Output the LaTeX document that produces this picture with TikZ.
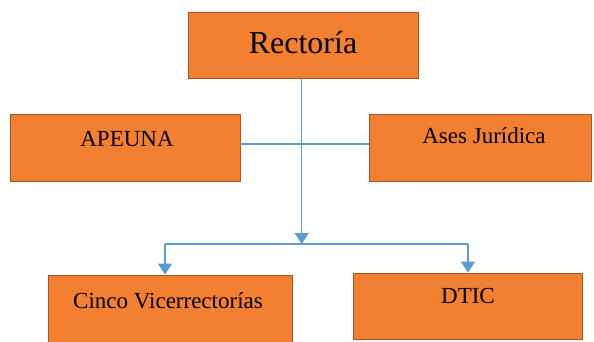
\documentclass[tikz,border=0pt]{standalone}
\usepackage{fontspec}
\setmainfont{Liberation Serif}
\usetikzlibrary{arrows.meta}
\definecolor{boxfill}{RGB}{242,128,48}
\definecolor{boxline}{RGB}{170,85,30}
\definecolor{linkblue}{RGB}{91,155,213}
\begin{document}
\begin{tikzpicture}[x=1pt,y=-1pt,
  orgbox/.style={draw=boxline,line width=0.9pt,fill=boxfill,inner sep=0pt},
  lbl/.style={anchor=base,inner sep=0pt,font=\fontsize{23}{26}\selectfont},
  link/.style={draw=linkblue,line width=1.4pt},
  arr/.style={link,-{Triangle[width=14pt,length=11pt]}}]
\useasboundingbox (0,0) rectangle (594,341);
\clip (0,0) rectangle (594,341);
% boxes
\node[orgbox,minimum width=230pt,minimum height=66pt] (rect) at (303,45) {};
\node[orgbox,minimum width=230pt,minimum height=67pt] (apeuna) at (125,147.5) {};
\node[orgbox,minimum width=222pt,minimum height=67pt] (ases) at (480,147.5) {};
\node[orgbox,minimum width=244pt,minimum height=72pt] (cinco) at (170,311) {};
\node[orgbox,minimum width=229pt,minimum height=66pt] (dtic) at (467.5,306) {};
% texts
\node[lbl,font=\fontsize{32}{35}\selectfont] (trect) at (303,53) {Rectoría};
\node[lbl] (tapeuna) at (127,146) {APEUNA};
\node[lbl] (tases) at (484,143) {Ases Jurídica};
\node[lbl] (tcinco) at (168,308) {Cinco Vicerrectorías};
\node[lbl] (tdtic) at (468,303) {DTIC};
% connectors
\coordinate (hl) at (0,144);
\coordinate (junc) at (301.7,244);
\coordinate (jl) at (165,244);
\coordinate (jr) at (468,244);
\draw[link] (apeuna.east |- hl) -- (ases.west |- hl);
\draw[arr] (rect.south -| junc) -- (junc);
\draw[link] (jl) -- (jr);
\draw[arr] (jl) -- (jl |- cinco.north);
\draw[arr] (jr) -- (jr |- dtic.north);
\end{tikzpicture}
\end{document}
